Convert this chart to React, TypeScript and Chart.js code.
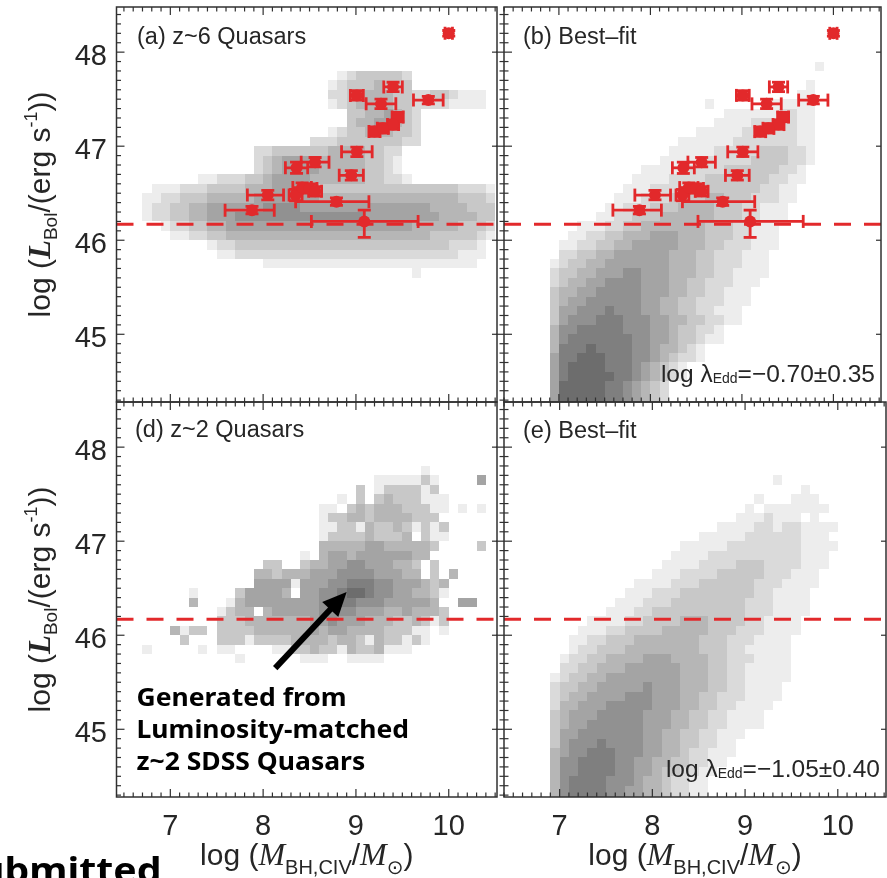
import { useEffect, useRef } from 'react';
import { Chart, registerables } from 'chart.js';
Chart.register(...registerables);

const W = 887;
const H = 878;

// ---------------- data ----------------
const Y_RANGE = [44.28, 48.48];
const X_RANGE_LEFT = [6.42, 10.52];
const X_RANGE_RIGHT = [6.4, 10.52];
const X_TICKS = [7, 8, 9, 10];
const Y_TICKS = [45, 46, 47, 48];
const L_LIMIT = 46.17;
const BIN = 0.1;

// z~6 quasars: log M_BH (CIV), log L_bol and their errors
const qsoMass = [10.0, 9.01, 9.4, 9.78, 9.27, 9.45, 9.4, 9.2, 9.29, 9.01, 8.95, 8.56, 8.36, 8.35, 8.42, 8.5, 8.56, 8.05, 7.88, 8.79, 9.09];
const qsoLum = [48.2, 47.54, 47.63, 47.49, 47.45, 47.31, 47.23, 47.155, 47.19, 46.94, 46.69, 46.83, 46.77, 46.48, 46.56, 46.55, 46.52, 46.48, 46.32, 46.41, 46.2];
const qsoMassLo = [0.04, 0.07, 0.1, 0.16, 0.16, 0.06, 0.06, 0.06, 0.06, 0.165, 0.13, 0.15, 0.12, 0.07, 0.1, 0.08, 0.07, 0.22, 0.29, 0.44, 0.57];
const qsoMassHi = [0.04, 0.07, 0.1, 0.16, 0.16, 0.06, 0.06, 0.06, 0.06, 0.165, 0.13, 0.15, 0.12, 0.07, 0.1, 0.08, 0.07, 0.17, 0.24, 0.35, 0.58];
const qsoLumLo = [0.03, 0.05, 0.05, 0.04, 0.05, 0.05, 0.05, 0.05, 0.05, 0.05, 0.05, 0.05, 0.06, 0.06, 0.05, 0.05, 0.05, 0.05, 0.04, 0.04, 0.17];
const qsoLumHi = [0.03, 0.05, 0.05, 0.04, 0.05, 0.05, 0.05, 0.05, 0.05, 0.05, 0.05, 0.05, 0.06, 0.06, 0.05, 0.05, 0.05, 0.05, 0.04, 0.04, 0.12];

// 2D histograms: [lower edge of log L bin, first log M bin, density levels per 0.1 dex bin ('.' = empty)]
type HistRow = [number, number, string];
const HIST_A: HistRow[] = [
  [47.7, 8.8, '12333332'],
  [47.6, 8.7, '123334333'],
  [47.5, 8.7, '22334443322332111'],
  [47.4, 8.7, '12344443322221111'],
  [47.3, 8.9, '33445432'],
  [47.2, 8.9, '34455432'],
  [47.1, 8.7, '1233444332'],
  [47.0, 8.5, '222333333322'],
  [46.9, 7.9, '2233333344443322'],
  [46.8, 7.9, '2345555444443321'],
  [46.7, 7.9, '2345555444443321'],
  [46.6, 7.3, '11222334555544444433221'],
  [46.5, 6.8, '1112223333444555543333333333333332221'],
  [46.4, 6.7, '11223334444455555554444444444444443332'],
  [46.3, 6.7, '12233445555556666555555555555554444333'],
  [46.2, 6.7, '12233445556666666666666655555555444433'],
  [46.1, 6.9, '122334455555555555555555555444443332'],
  [46.0, 7.0, '11223344444444444444444444443333321'],
  [45.9, 7.4, '122333333333333333333333332221'],
  [45.8, 7.5, '11222222222222222222222222111'],
  [45.7, 8.0, '11111111111111111111111'],
  [45.6, 9.6, '1'],
];
const HIST_B: HistRow[] = [
  [47.8, 9.8, '1'],
  [47.6, 9.7, '1'],
  [47.5, 9.6, '11'],
  [47.4, 8.6, '1......11111'],
  [47.3, 8.8, '1111112211'],
  [47.2, 8.7, '11112222211'],
  [47.1, 8.5, '1111122222211'],
  [47.0, 8.3, '111111222222211'],
  [46.9, 8.2, '1111122222333221'],
  [46.8, 8.1, '11111222223333221'],
  [46.7, 7.9, '111112222333333221'],
  [46.6, 7.8, '1111222233333332211'],
  [46.5, 7.7, '1112222333333332211'],
  [46.4, 7.6, '11122233334433322211'],
  [46.3, 7.5, '11222333444433322111'],
  [46.2, 7.4, '112233344444433322111'],
  [46.1, 7.2, '1112233444444433322111'],
  [46.0, 7.1, '11223344455544433322111'],
  [45.9, 7.0, '112233445555544433222111'],
  [45.8, 7.0, '22334455555544433222111'],
  [45.7, 6.9, '123344555555544433222111'],
  [45.6, 6.9, '233445556655544433221111'],
  [45.5, 6.9, '23445566665554433222111'],
  [45.4, 6.9, '3445566666555443322111'],
  [45.3, 6.9, '3455666666554433222111'],
  [45.2, 6.9, '355666766655443322111'],
  [45.1, 6.9, '356667776665544332211'],
  [45.0, 6.9, '4667777766655433221'],
  [44.9, 6.9, '4677777776655433211'],
  [44.8, 6.9, '47778777766544321'],
  [44.7, 6.9, '57788877766543221'],
  [44.6, 6.9, '578888777654321'],
  [44.5, 6.9, '578888877654321'],
  [44.4, 6.9, '5888887765432'],
  [44.3, 6.9, '5888887765432'],
  [44.2, 6.9, '5888887765432'],
];
const HIST_D: HistRow[] = [
  [47.7, 9.7, '1'],
  [47.6, 9.2, '1111131....5'],
  [47.5, 9.0, '3.1333313'],
  [47.4, 8.8, '1.3.34333111'],
  [47.3, 8.6, '11.34344433311.1.1'],
  [47.2, 8.6, '1334434444333'],
  [47.1, 8.6, '11331433431313'],
  [47.0, 8.6, '1333343334.311'],
  [46.9, 8.6, '4444455444443....3'],
  [46.8, 8.4, '1.455455555544'],
  [46.7, 8.0, '33..3445566555443.3'],
  [46.6, 7.9, '443444555666655544.3.4'],
  [46.5, 7.9, '555515556677766555434'],
  [46.4, 7.2, '1....355554.5566788766554431'],
  [46.3, 7.2, '4...14555555556677666555554..55'],
  [46.2, 7.5, '1344.45555566665554454443'],
  [46.1, 7.5, '3334444444556555444334313'],
  [46.0, 7.0, '4133.33334444445455444433311.1'],
  [45.9, 7.1, '3...33313333444434431433131'],
  [45.8, 6.7, '1.....1.11....113343314334111'],
  [45.7, 7.7, '1......111..1111'],
];
const HIST_E: HistRow[] = [
  [47.6, 9.3, '1'],
  [47.5, 9.6, '1'],
  [47.4, 9.1, '1...111'],
  [47.3, 9.0, '1.1111111'],
  [47.2, 8.9, '1112111.1'],
  [47.1, 8.7, '1111221221111'],
  [47.0, 8.5, '11111222222111'],
  [46.9, 8.3, '11111222222221111'],
  [46.8, 8.2, '11112222222222111'],
  [46.7, 8.1, '111122223332222111'],
  [46.6, 8.0, '111222233333222111'],
  [46.5, 7.8, '11112223333332221111'],
  [46.4, 7.7, '11122233333333221111'],
  [46.3, 7.6, '111222333333332221111'],
  [46.2, 7.5, '1112233333333332221111'],
  [46.1, 7.3, '11112233334443333221111'],
  [46.0, 7.2, '111223333444443332221111'],
  [45.9, 7.1, '112233344444443332221111'],
  [45.8, 7.1, '122333444444443332211111'],
  [45.7, 7.0, '1223344445554444332221111'],
  [45.6, 7.0, '2233444555555444332211111'],
  [45.5, 6.9, '12334455555555444332211111'],
  [45.4, 6.9, '2334455555655544433221111'],
  [45.3, 6.9, '2344555566655544332221111'],
  [45.2, 6.9, '244555666665554433221111'],
  [45.1, 6.9, '34555666665554433221111'],
  [45.0, 6.9, '34556666665554433221111'],
  [44.9, 6.9, '355666666655443322111'],
  [44.8, 6.9, '35666766665544332211'],
  [44.7, 6.9, '45667776665544322111'],
  [44.6, 6.9, '4667777665544332211'],
  [44.5, 6.9, '466777766554332211'],
  [44.4, 6.9, '46777766654432211'],
  [44.3, 6.9, '46777766554432211'],
  [44.2, 6.9, '46777766554432211'],
];

const PANEL_LABELS = ['(a) z~6 Quasars', '(b) Best\u2013fit', '(d) z~2 Quasars', '(e) Best\u2013fit'];
const EDD_B = '=\u22120.70\u00b10.35';
const EDD_E = '=\u22121.05\u00b10.40';
const NOTE_LINES = ['Generated from', 'Luminosity-matched', 'z~2 SDSS Quasars'];
const ARROW_FROM = [8.13, 45.65];
const ARROW_TO = [8.9, 46.46];

// ---------------- style ----------------
const RED = '#e2292b';
const INK = '#262626';
const SANS = "'Liberation Sans', Arial, sans-serif";
const SERIF = "'Liberation Serif', 'DejaVu Serif', serif";

type Seg = { t: string; f: string; dy?: number };
function drawRich(ctx: CanvasRenderingContext2D, segs: Seg[], x: number, y: number, align: 'left' | 'center' | 'right') {
  const widths = segs.map((s) => {
    ctx.font = s.f;
    return ctx.measureText(s.t).width;
  });
  const total = widths.reduce((a, b) => a + b, 0);
  let cx = align === 'left' ? x : align === 'center' ? x - total / 2 : x - total;
  ctx.textAlign = 'left';
  ctx.textBaseline = 'alphabetic';
  segs.forEach((s, i) => {
    ctx.font = s.f;
    ctx.fillText(s.t, cx, y + (s.dy || 0));
    cx += widths[i];
  });
}

const Y_TITLE: Seg[] = [
  { t: 'log (', f: `30px ${SANS}` },
  { t: 'L', f: `italic bold 31px ${SERIF}` },
  { t: 'Bol', f: `19px ${SANS}`, dy: 7 },
  { t: '/(erg s', f: `30px ${SANS}` },
  { t: '-1', f: `18px ${SANS}`, dy: -13 },
  { t: '))', f: `30px ${SANS}` },
];
const X_TITLE: Seg[] = [
  { t: 'log (', f: `30px ${SANS}` },
  { t: 'M', f: `italic 32px ${SERIF}` },
  { t: 'BH,CIV', f: `20px ${SANS}`, dy: 9 },
  { t: '/', f: `30px ${SANS}` },
  { t: 'M', f: `italic 32px ${SERIF}` },
  { t: '\u2299', f: `20px 'DejaVu Sans', sans-serif`, dy: 9 },
  { t: ')', f: `30px ${SANS}` },
];

type Panel = {
  key: string;
  area: { left: number; top: number; right: number; bottom: number };
  xRange: number[];
  label: string;
  labelPos: [number, number];
  hist: HistRow[];
  points: boolean;
  isLeft: boolean;
  isBottom: boolean;
  edd?: string;
  note?: boolean;
};

const PANELS: Panel[] = [
  { key: 'a', area: { left: 116.5, top: 7, right: 497, bottom: 402 }, xRange: X_RANGE_LEFT, label: PANEL_LABELS[0], labelPos: [137, 44], hist: HIST_A, points: true, isLeft: true, isBottom: false },
  { key: 'b', area: { left: 504, top: 7, right: 886, bottom: 402 }, xRange: X_RANGE_RIGHT, label: PANEL_LABELS[1], labelPos: [523, 44], hist: HIST_B, points: true, isLeft: false, isBottom: false, edd: EDD_B },
  { key: 'd', area: { left: 116.5, top: 402, right: 497, bottom: 797 }, xRange: X_RANGE_LEFT, label: PANEL_LABELS[2], labelPos: [135, 437], hist: HIST_D, points: false, isLeft: true, isBottom: true, note: true },
  { key: 'e', area: { left: 504, top: 402, right: 886, bottom: 797 }, xRange: X_RANGE_RIGHT, label: PANEL_LABELS[3], labelPos: [523, 438], hist: HIST_E, points: false, isLeft: false, isBottom: true, edd: EDD_E },
];

function line(ctx: CanvasRenderingContext2D, x0: number, y0: number, x1: number, y1: number) {
  ctx.beginPath();
  ctx.moveTo(x0, y0);
  ctx.lineTo(x1, y1);
  ctx.stroke();
}

function panelPlugin(p: Panel) {
  return {
    id: 'panel_' + p.key,
    beforeDatasetsDraw(chart: any) {
      const { ctx, chartArea: a } = chart;
      const xs = chart.scales.x;
      const ys = chart.scales.y;
      ctx.save();
      ctx.beginPath();
      ctx.rect(a.left, a.top, a.right - a.left, a.bottom - a.top);
      ctx.clip();
      // density map
      for (const [yLow, xStart, cells] of p.hist) {
        const py0 = Math.round(ys.getPixelForValue(yLow + BIN));
        const py1 = Math.round(ys.getPixelForValue(yLow));
        for (let i = 0; i < cells.length; i++) {
          const ch = cells[i];
          if (ch === '.' || ch === '0' || ch === ' ') continue;
          const lv = Number(ch);
          const xv = xStart + i * BIN;
          const px0 = Math.round(xs.getPixelForValue(xv));
          const px1 = Math.round(xs.getPixelForValue(xv + BIN));
          const g = Math.round(255 - lv * 18.3);
          ctx.fillStyle = `rgb(${g},${g},${g})`;
          ctx.fillRect(px0, py0, px1 - px0, py1 - py0);
        }
      }
      // error bars
      if (p.points) {
        ctx.strokeStyle = RED;
        ctx.lineWidth = 2.8;
        const cap = 6.5;
        for (let i = 0; i < qsoMass.length; i++) {
          const px = xs.getPixelForValue(qsoMass[i]);
          const py = ys.getPixelForValue(qsoLum[i]);
          const xl = xs.getPixelForValue(qsoMass[i] - qsoMassLo[i]);
          const xr = xs.getPixelForValue(qsoMass[i] + qsoMassHi[i]);
          const yb = ys.getPixelForValue(qsoLum[i] - qsoLumLo[i]);
          const yt = ys.getPixelForValue(qsoLum[i] + qsoLumHi[i]);
          line(ctx, xl, py, xr, py);
          line(ctx, xl, py - cap, xl, py + cap);
          line(ctx, xr, py - cap, xr, py + cap);
          line(ctx, px, yb, px, yt);
          line(ctx, px - cap, yb, px + cap, yb);
          line(ctx, px - cap, yt, px + cap, yt);
        }
      }
      ctx.restore();
    },
    afterDraw(chart: any) {
      const { ctx, chartArea: a } = chart;
      const xs = chart.scales.x;
      const ys = chart.scales.y;
      ctx.save();
      // arrow + note
      if (p.note) {
        const x0 = xs.getPixelForValue(ARROW_FROM[0]);
        const y0 = ys.getPixelForValue(ARROW_FROM[1]);
        const x1 = xs.getPixelForValue(ARROW_TO[0]);
        const y1 = ys.getPixelForValue(ARROW_TO[1]);
        const ang = Math.atan2(y1 - y0, x1 - x0);
        const hl = 24;
        const hw = 11;
        const bx = x1 - hl * Math.cos(ang);
        const by = y1 - hl * Math.sin(ang);
        ctx.strokeStyle = '#000';
        ctx.fillStyle = '#000';
        ctx.lineWidth = 6;
        line(ctx, x0, y0, bx + 2 * Math.cos(ang), by + 2 * Math.sin(ang));
        ctx.beginPath();
        ctx.moveTo(x1, y1);
        ctx.lineTo(bx + hw * Math.sin(ang), by - hw * Math.cos(ang));
        ctx.lineTo(bx - hw * Math.sin(ang), by + hw * Math.cos(ang));
        ctx.closePath();
        ctx.fill();
        ctx.textAlign = 'left';
        ctx.textBaseline = 'alphabetic';
        ctx.font = `bold 25px 'Noto Sans', sans-serif`;
        NOTE_LINES.forEach((t, i) => {
          ctx.save();
          ctx.translate(136.5, 706 + i * 32.2);
          ctx.scale(1.06, 1);
          ctx.fillText(t, 0, 0);
          ctx.restore();
        });
        ctx.save();
        ctx.font = `bold 35px 'Noto Sans', sans-serif`;
        ctx.textAlign = 'right';
        ctx.translate(161.5, 883);
        ctx.scale(1.12, 1);
        ctx.fillText('Submitted', 0, 0);
        ctx.restore();
      }
      // frame
      ctx.strokeStyle = '#303030';
      ctx.lineWidth = 1.5;
      ctx.strokeRect(a.left, a.top, a.right - a.left, a.bottom - a.top);
      // ticks
      ctx.lineWidth = 1.2;
      const kx0 = Math.ceil(p.xRange[0] * 10 - 1e-6);
      const kx1 = Math.floor(p.xRange[1] * 10 + 1e-6);
      for (let k = kx0; k <= kx1; k++) {
        const major = k % 10 === 0;
        const px = xs.getPixelForValue(k / 10);
        const len = major ? 8 : 4.5;
        line(ctx, px, a.bottom, px, a.bottom - len);
        line(ctx, px, a.top, px, a.top + len);
      }
      const ky0 = Math.ceil(Y_RANGE[0] * 10 - 1e-6);
      const ky1 = Math.floor(Y_RANGE[1] * 10 + 1e-6);
      for (let k = ky0; k <= ky1; k++) {
        const major = k % 10 === 0;
        const py = ys.getPixelForValue(k / 10);
        const len = major ? 8 : 4.5;
        line(ctx, a.left - (p.isLeft ? 0 : len), py, a.left + len, py);
        if (major) line(ctx, a.right, py, a.right - 5, py);
      }
      // tick labels
      ctx.fillStyle = INK;
      ctx.font = `29px ${SANS}`;
      if (p.isLeft) {
        ctx.textAlign = 'right';
        ctx.textBaseline = 'alphabetic';
        Y_TICKS.forEach((v) => ctx.fillText(String(v), a.left - 9.5, ys.getPixelForValue(v) + 12.5));
        ctx.save();
        ctx.translate(50, (a.top + a.bottom) / 2);
        ctx.rotate(-Math.PI / 2);
        drawRich(ctx, Y_TITLE, 0, 0, 'center');
        ctx.restore();
      }
      if (p.isBottom) {
        ctx.font = `29px ${SANS}`;
        ctx.textAlign = 'center';
        ctx.textBaseline = 'alphabetic';
        X_TICKS.forEach((v) => ctx.fillText(String(v), xs.getPixelForValue(v), a.bottom + 38));
        drawRich(ctx, X_TITLE, (a.left + a.right) / 2, 865, 'center');
      }
      // panel label
      ctx.fillStyle = INK;
      ctx.font = `23.5px ${SANS}`;
      ctx.textAlign = 'left';
      ctx.textBaseline = 'alphabetic';
      ctx.fillText(p.label, p.labelPos[0], p.labelPos[1]);
      if (p.edd) {
        drawRich(
          ctx,
          [
            { t: 'log \u03bb', f: `24.5px ${SANS}` },
            { t: 'Edd', f: `14px ${SANS}`, dy: 1 },
            { t: p.edd, f: `24.5px ${SANS}` },
          ],
          a.right - 6,
          a.bottom - 20.5,
          'right'
        );
      }
      ctx.restore();
    },
  };
}

function makeChart(canvas: HTMLCanvasElement, p: Panel) {
  const datasets: any[] = [
    {
      type: 'line',
      data: [
        { x: p.xRange[0], y: L_LIMIT },
        { x: p.xRange[1], y: L_LIMIT },
      ],
      borderColor: RED,
      borderWidth: 3,
      borderDash: [17, 13],
      pointRadius: 0,
      fill: false,
      order: 2,
    },
  ];
  if (p.points) {
    datasets.push({
      type: 'scatter',
      data: qsoMass.map((m, i) => ({ x: m, y: qsoLum[i] })),
      backgroundColor: RED,
      borderColor: RED,
      borderWidth: 0,
      pointRadius: 6,
      pointStyle: 'circle',
      order: 1,
    });
  }
  return new Chart(canvas, {
    type: 'scatter',
    data: { datasets },
    options: {
      animation: false,
      responsive: false,
      events: [],
      layout: { padding: { left: p.area.left, top: p.area.top, right: W - p.area.right, bottom: H - p.area.bottom } },
      plugins: { legend: { display: false }, tooltip: { enabled: false } },
      scales: {
        x: { type: 'linear', min: p.xRange[0], max: p.xRange[1], display: false },
        y: { type: 'linear', min: Y_RANGE[0], max: Y_RANGE[1], display: false },
      },
    },
    plugins: [panelPlugin(p)],
  } as any);
}

export default function App() {
  const refs = useRef<(HTMLCanvasElement | null)[]>([]);
  useEffect(() => {
    const charts = PANELS.map((p, i) => makeChart(refs.current[i] as HTMLCanvasElement, p));
    return () => charts.forEach((c) => c.destroy());
  }, []);
  return (
    <div style={{ position: 'absolute', left: 0, top: 0, width: W, height: H, overflow: 'hidden', background: '#fff' }}>
      {PANELS.map((p, i) => (
        <canvas
          key={p.key}
          ref={(el) => {
            refs.current[i] = el;
          }}
          width={W}
          height={H}
          style={{ position: 'absolute', left: 0, top: 0, width: W, height: H }}
        />
      ))}
    </div>
  );
}
